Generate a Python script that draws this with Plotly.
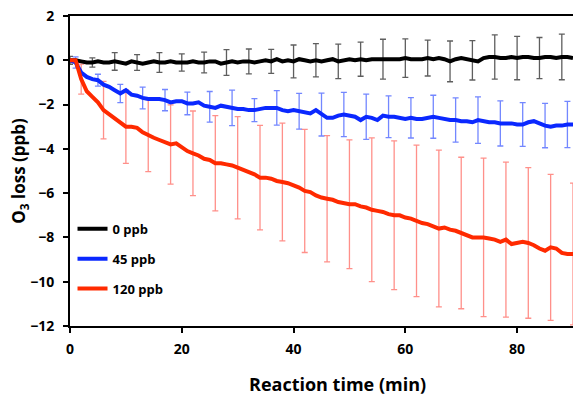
import plotly.graph_objects as go

# Reaction time (min), 1-min resolution
time_min = list(range(0, 91))

o3_loss_0ppb = [
    0, 0, -0.05, -0.1, -0.1, -0.05, -0.1, -0.1, -0.05, -0.1,
    -0.15, -0.05, -0.1, -0.15, -0.1, -0.05, -0.1, -0.1, -0.05, -0.1,
    -0.1, -0.1, -0.05, -0.1, -0.1, -0.05, -0.05, -0.15, -0.1, -0.05,
    -0.1, -0.05, -0.05, -0.1, -0.05, 0, -0.05, 0.05, -0.05, 0,
    -0.05, 0.05, 0, -0.05, 0, -0.05, 0, 0.05, -0.05, 0,
    0.05, 0, 0.05, 0, 0.05, 0.05, 0.05, 0.05, 0.05, 0.05,
    0.1, 0.05, 0.05, 0.05, 0.1, 0.05, 0.1, 0.05, -0.05, 0.05,
    0.1, 0.05, 0.0, -0.05, 0.1, 0.15, 0.15, 0.1, 0.1, 0.15,
    0.1, 0.15, 0.15, 0.1, 0.1, 0.15, 0.15, 0.1, 0.15, 0.15,
    0.1,
]

o3_loss_45ppb = [
    0, -0.1, -0.55, -0.75, -0.85, -0.9, -1.1, -1.2, -1.35, -1.5,
    -1.35, -1.55, -1.6, -1.7, -1.75, -1.75, -1.75, -1.8, -1.9, -1.85,
    -1.85, -1.95, -1.95, -1.9, -2.05, -2.1, -2.15, -2.05, -2.1, -2.15,
    -2.2, -2.2, -2.25, -2.25, -2.2, -2.15, -2.15, -2.15, -2.25, -2.3,
    -2.25, -2.3, -2.35, -2.4, -2.25, -2.45, -2.6, -2.6, -2.5, -2.45,
    -2.5, -2.55, -2.7, -2.55, -2.6, -2.7, -2.5, -2.55, -2.55, -2.6,
    -2.65, -2.6, -2.65, -2.65, -2.6, -2.55, -2.6, -2.65, -2.7, -2.7,
    -2.75, -2.75, -2.8, -2.7, -2.75, -2.8, -2.8, -2.85, -2.85, -2.85,
    -2.9, -2.9, -2.8, -2.75, -2.85, -2.95, -3.0, -2.95, -2.95, -2.9,
    -2.9,
]

o3_loss_120ppb = [
    0, 0, -0.85, -1.4, -1.65, -1.9, -2.25, -2.45, -2.6, -2.8,
    -3.0, -3.0, -3.05, -3.25, -3.4, -3.5, -3.6, -3.7, -3.8, -3.75,
    -3.95, -4.1, -4.2, -4.3, -4.45, -4.5, -4.65, -4.65, -4.7, -4.75,
    -4.85, -4.95, -5.05, -5.15, -5.3, -5.3, -5.35, -5.45, -5.5, -5.55,
    -5.65, -5.75, -5.9, -5.95, -6.1, -6.2, -6.25, -6.3, -6.4, -6.45,
    -6.5, -6.5, -6.6, -6.65, -6.75, -6.8, -6.85, -6.95, -7.0, -7.0,
    -7.1, -7.15, -7.25, -7.35, -7.4, -7.5, -7.6, -7.55, -7.65, -7.7,
    -7.8, -7.9, -8.0, -8.0, -8.0, -8.05, -8.1, -8.2, -8.1, -8.3,
    -8.25, -8.2, -8.25, -8.35, -8.5, -8.6, -8.45, -8.5, -8.7, -8.75,
    -8.75,
]

# Error bar sample times (staggered) and half-widths (ppb)
err_t_0ppb = list(range(0, 89, 4))
err_0ppb = [0.18, 0.21, 0.4, 0.36, 0.45, 0.39, 0.47, 0.58, 0.56, 0.54,
            0.74, 0.75, 0.78, 0.77, 0.9, 0.87, 0.81, 0.92, 0.89, 1.0,
            0.98, 0.93, 1.03]
err_t_45ppb = list(range(1, 90, 4))
err_45ppb = [0.25, 0.27, 0.41, 0.49, 0.48, 0.51, 0.69, 0.8, 0.52, 0.78,
             0.81, 0.97, 1.0, 1.02, 0.94, 0.91, 0.97, 1.0, 1.05, 1.02,
             0.99, 1.0, 1.04]
err_t_120ppb = list(range(2, 91, 4))
err_120ppb = [0.68, 1.3, 1.66, 1.63, 1.79, 1.91, 2.15, 2.31, 2.36, 2.66,
              2.78, 2.85, 2.91, 3.25, 3.36, 3.42, 3.54, 3.42, 3.58, 3.5,
              3.4, 3.3, 3.2]

series_names = ["0 ppb", "45 ppb", "120 ppb"]
line_colors = ["#000000", "#0a28ff", "#ff2a00"]
bar_colors = ["rgba(40,40,40,0.75)", "rgba(40,70,255,0.65)", "rgba(255,70,60,0.6)"]

series = [o3_loss_0ppb, o3_loss_45ppb, o3_loss_120ppb]
err_times = [err_t_0ppb, err_t_45ppb, err_t_120ppb]
err_vals = [err_0ppb, err_45ppb, err_120ppb]

font_family = "Open Sans, DejaVu Sans, sans-serif"

fig = go.Figure()

# error bars (drawn first, underneath the lines)
for ys, ts, es, bc in zip(series, err_times, err_vals, bar_colors):
    fig.add_trace(go.Scatter(
        x=ts,
        y=[ys[t] for t in ts],
        mode="markers",
        marker=dict(size=0.1, color="rgba(0,0,0,0)"),
        error_y=dict(type="data", array=es, visible=True, color=bc,
                     thickness=1.3, width=3),
        showlegend=False,
        hoverinfo="skip",
    ))

for i, (ys, name, lc) in enumerate(zip(series, series_names, line_colors)):
    fig.add_trace(go.Scatter(
        x=time_min, y=ys, mode="lines", name=name,
        line=dict(color=lc, width=4),
        legendgroup=name,
    ))

fig.update_layout(
    width=573, height=395,
    margin=dict(l=70, r=0, t=16, b=69),
    paper_bgcolor="white", plot_bgcolor="white",
    font=dict(family=font_family, size=14, color="black", weight="bold"),
    legend=dict(
        x=0.005, y=0.362, xanchor="left", yanchor="top",
        bgcolor="rgba(0,0,0,0)",
        font=dict(family=font_family, size=13, color="black", weight="bold"),
        tracegroupgap=10, itemwidth=30,
    ),
    xaxis=dict(
        range=[0, 90], tickvals=[0, 20, 40, 60, 80],
        showgrid=False, zeroline=False,
        showline=True, linecolor="black", linewidth=2, mirror=True,
        ticks="outside", ticklen=5, tickwidth=2, tickcolor="black",
        tickfont=dict(family=font_family, size=14, weight="bold"),
        ticklabelstandoff=4,
    ),
    yaxis=dict(
        range=[-12, 2], dtick=2,
        showgrid=False, zeroline=False,
        showline=True, linecolor="black", linewidth=2,
        ticks="outside", ticklen=5, tickwidth=2, tickcolor="black",
        tickfont=dict(family=font_family, size=14, weight="bold"),
        ticklabelstandoff=6,
        title=dict(text="O<sub>3</sub> loss (ppb)", standoff=0,
                   font=dict(family=font_family, size=17, weight="bold")),
    ),
    annotations=[dict(
        text="Reaction time (min)", xref="paper", yref="paper",
        x=0.531, y=-0.187, xanchor="center", yanchor="middle",
        showarrow=False,
        font=dict(family=font_family, size=18, color="black", weight="bold"),
    )],
)

fig.write_html("out.html")
